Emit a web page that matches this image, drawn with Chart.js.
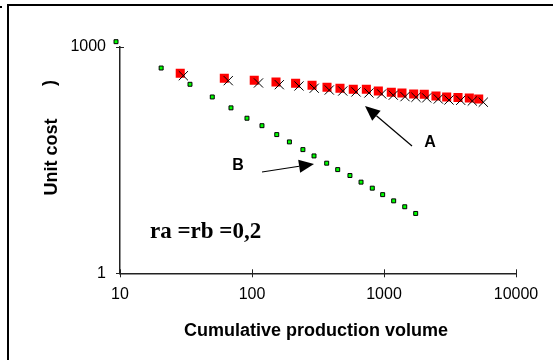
<!DOCTYPE html>
<html>
<head>
<meta charset="utf-8">
<script src="https://cdn.jsdelivr.net/npm/chart.js@4/dist/chart.umd.min.js"></script>
<style>
  html, body { margin: 0; padding: 0; background: #fff; }
  #wrap { width: 553px; height: 360px; }
</style>
</head>
<body>
<div id="wrap"><canvas id="chart" width="553" height="360"></canvas></div>
<script>
// Curve A, observed (red squares)
const volumeA = [28.6, 61.7, 104, 152, 214, 285, 370, 464, 585, 735, 906, 1136, 1368, 1678, 2019, 2475, 2985, 3636, 4429, 5217];
const costA = [445, 382, 359, 341, 328, 309, 290, 282, 273, 273, 259, 249, 244, 237, 235, 223, 216, 212, 209, 203];

// Curve A, model (black crosses)
const volumeModel = [30.2, 66.1, 112, 161, 227, 296, 385, 487, 614, 769, 960, 1176, 1443, 1747, 2106, 2578, 3107, 3811, 4667, 5651];
const costModel = [413, 355, 331, 314, 302, 282, 267, 259, 252, 244, 237, 228, 218, 214, 210, 203, 197, 195, 191, 184];

// Curve B (small green squares)
const volumeB = [9.33, 20.5, 33.9, 50, 69.3, 91.6, 119, 154, 192, 243, 295, 368, 446, 552, 670, 815, 977, 1184, 1436, 1738];
const costB = [1165, 522, 318, 216, 155, 113, 90, 68.6, 54.9, 43.4, 35.8, 28.7, 23.6, 19.7, 16.1, 13.4, 11.0, 9.1, 7.6, 6.2];

const xTicks = [10, 100, 1000, 10000];
const yTicks = [1, 1000];

function toPoints(xs, ys) {
    return xs.map((x, i) => ({ x: x, y: ys[i] }));
}

function drawArrow(ctx, x1, y1, x2, y2, len, half) {
    const a = Math.atan2(y2 - y1, x2 - x1);
    const bx = x2 - len * Math.cos(a);
    const by = y2 - len * Math.sin(a);
    ctx.beginPath();
    ctx.moveTo(x1, y1);
    ctx.lineTo(bx, by);
    ctx.stroke();
    ctx.beginPath();
    ctx.moveTo(x2, y2);
    ctx.lineTo(bx + half * Math.sin(a), by - half * Math.cos(a));
    ctx.lineTo(bx - half * Math.sin(a), by + half * Math.cos(a));
    ctx.closePath();
    ctx.fill();
}

// let points sitting just outside the axes (first point of B) still be drawn
let savedArea = null;
const looseArea = {
    id: "looseArea",
    beforeDatasetsDraw(chart) {
        savedArea = chart.chartArea;
        chart.chartArea = {
            left: savedArea.left - 20, right: savedArea.right + 20,
            top: savedArea.top - 20, bottom: savedArea.bottom + 20,
            width: savedArea.width + 40, height: savedArea.height + 40
        };
    },
    afterDatasetsDraw(chart) {
        if (savedArea) chart.chartArea = savedArea;
    }
};

// Extra drawing: white background, cross ticks, titles, labels, arrows, frame
const extras = {
    id: "extras",
    beforeDraw(chart) {
        const ctx = chart.ctx;
        ctx.save();
        ctx.fillStyle = "#fff";
        ctx.fillRect(0, 0, chart.width, chart.height);
        ctx.restore();
    },
    afterDraw(chart) {
        const ctx = chart.ctx;
        const xs = chart.scales.x;
        const ys = chart.scales.y;
        ctx.save();
        ctx.strokeStyle = "#222";
        ctx.lineWidth = 1;
        xTicks.forEach(v => {
            const px = Math.round(xs.getPixelForValue(v)) + 0.5;
            ctx.beginPath();
            ctx.moveTo(px, ys.bottom - 4);
            ctx.lineTo(px, ys.bottom + 4);
            ctx.stroke();
        });
        yTicks.forEach(v => {
            const py = Math.round(ys.getPixelForValue(v)) + 0.5;
            ctx.beginPath();
            ctx.moveTo(xs.left - 4, py);
            ctx.lineTo(xs.left + 4, py);
            ctx.stroke();
        });

        ctx.fillStyle = "#000";
        ctx.textAlign = "center";
        ctx.textBaseline = "middle";

        // axis titles
        ctx.font = "bold 18px 'Liberation Sans', Arial, sans-serif";
        ctx.fillText("Cumulative production volume", 316, 331);
        ctx.save();
        ctx.translate(52, 157);
        ctx.rotate(-Math.PI / 2);
        ctx.fillText("Unit cost", 0, 0);
        ctx.restore();
        ctx.save();
        ctx.translate(50, 83);
        ctx.rotate(-Math.PI / 2);
        ctx.fillText(")", 0, 0);
        ctx.restore();

        // curve labels
        ctx.font = "bold 16px 'Liberation Sans', Arial, sans-serif";
        ctx.fillText("A", 430, 143);
        ctx.fillText("B", 238, 166);

        ctx.font = "bold 23px 'Liberation Serif', 'Times New Roman', serif";
        ctx.textAlign = "left";
        ctx.textBaseline = "alphabetic";
        ctx.fillText("ra =rb =0,2", 150, 238);

        // arrows
        ctx.strokeStyle = "#000";
        ctx.lineWidth = 1.2;
        drawArrow(ctx, 412, 146, 365, 106, 15, 6.5);
        drawArrow(ctx, 262, 172, 314, 164, 15, 6.5);

        // outer frame
        ctx.lineWidth = 2;
        ctx.beginPath();
        ctx.moveTo(8, 360);
        ctx.lineTo(8, 5);
        ctx.lineTo(553, 5);
        ctx.stroke();
        ctx.fillRect(0, 6, 2, 2);
        ctx.restore();
    }
};

new Chart(document.getElementById("chart"), {
    type: "scatter",
    data: {
        datasets: [
            {
                label: "A model",
                data: toPoints(volumeModel, costModel),
                pointStyle: "crossRot",
                pointRadius: 6.5,
                borderColor: "#000",
                borderWidth: 1,
                backgroundColor: "#000"
            },
            {
                label: "A",
                data: toPoints(volumeA, costA),
                pointStyle: "rect",
                pointRadius: 6.4,
                borderWidth: 0,
                backgroundColor: "#ff0000"
            },
            {
                label: "B",
                data: toPoints(volumeB, costB),
                pointStyle: "rect",
                pointRadius: 2.8,
                borderWidth: 1,
                borderColor: "#000",
                backgroundColor: "#00ff00",
                clip: false
            }
        ]
    },
    options: {
        responsive: false,
        animation: false,
        devicePixelRatio: 1,
        layout: { padding: { top: 46.7, right: 37, left: 0, bottom: 0 } },
        plugins: {
            legend: { display: false },
            tooltip: { enabled: false }
        },
        scales: {
            x: {
                type: "logarithmic",
                min: 10,
                max: 10000,
                afterBuildTicks: s => { s.ticks = xTicks.map(v => ({ value: v })); },
                afterFit: s => { s.height = 86.7; },
                grid: { display: false, drawTicks: false },
                border: { display: true, color: "#222", width: 1.5 },
                ticks: {
                    color: "#000",
                    padding: 12,
                    maxRotation: 0,
                    font: { family: "'Liberation Sans', Arial, sans-serif", size: 16 },
                    callback: v => String(v)
                }
            },
            y: {
                type: "logarithmic",
                min: 1,
                max: 1000,
                afterBuildTicks: s => { s.ticks = yTicks.map(v => ({ value: v })); },
                afterFit: s => { s.width = 120; },
                grid: { display: false, drawTicks: false },
                border: { display: true, color: "#222", width: 1.5 },
                ticks: {
                    color: "#000",
                    padding: 14,
                    font: { family: "'Liberation Sans', Arial, sans-serif", size: 16 },
                    callback: v => String(v)
                }
            }
        }
    },
    plugins: [looseArea, extras]
});
</script>
</body>
</html>
